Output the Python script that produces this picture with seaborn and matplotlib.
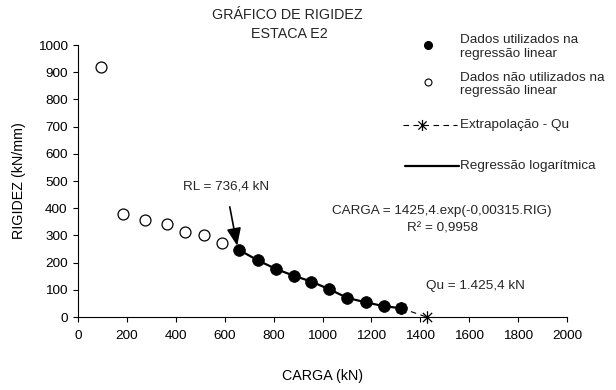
import numpy as np
import pandas as pd
import matplotlib
matplotlib.use("Agg")
import matplotlib.pyplot as plt
from matplotlib.lines import Line2D
from matplotlib.path import Path
import seaborn as sns

# Load test readings: load (kN) and pile stiffness (kN/mm)
load_unused = [95, 185, 275, 366, 439, 516, 589]
stiff_unused = [918, 379, 355, 342, 314, 301, 273]

load_used = [660, 736, 811, 882, 955, 1028, 1102, 1177, 1250, 1323]
stiff_used = [246, 208, 176, 152, 130, 102, 70, 54, 40, 32]

# Extrapolation from the last point used in the fit to the ultimate load
qu_load = 1425.4
extrap_load = [1323, qu_load]
extrap_stiff = [32, 0]

x_ticks = list(range(0, 2001, 200))
y_ticks = list(range(0, 1001, 100))

sns.set_theme(style="white")
plt.rcParams["font.family"] = ["Liberation Sans", "DejaVu Sans"]
plt.rcParams["axes.linewidth"] = 0.8
plt.rcParams["xtick.major.width"] = 0.8
plt.rcParams["ytick.major.width"] = 0.8

W, H = 616, 390
fig = plt.figure(figsize=(W / 100, H / 100), dpi=100)
ax = fig.add_axes([78 / W, 1 - 317 / H, (567 - 78) / W, (317 - 45) / H])

FS = 9.7

df_used = pd.DataFrame({"CARGA": load_used, "RIGIDEZ": stiff_used})
df_unused = pd.DataFrame({"CARGA": load_unused, "RIGIDEZ": stiff_unused})

# Excel-style star marker: an "x" crossed by a vertical bar
star = Path(
    [(-1, -1), (1, 1), (-1, 1), (1, -1), (0, -1.35), (0, 1.35)],
    [Path.MOVETO, Path.LINETO, Path.MOVETO, Path.LINETO, Path.MOVETO, Path.LINETO],
)

# Logarithmic regression line through the points used in the fit
sns.lineplot(data=df_used, x="CARGA", y="RIGIDEZ", color="black", lw=1.6,
             ax=ax, zorder=2, sort=True)

# Extrapolation to Qu
ax.plot(extrap_load, extrap_stiff, color="black", lw=0.8, ls=(0, (5, 4)),
        marker=star, markersize=9, markeredgewidth=0.9, markerfacecolor="none",
        clip_on=False, zorder=3)

sns.scatterplot(data=df_unused, x="CARGA", y="RIGIDEZ", marker="o", s=62,
                facecolor="white", edgecolor="black", linewidth=0.9, ax=ax,
                zorder=4)
sns.scatterplot(data=df_used, x="CARGA", y="RIGIDEZ", marker="o", s=72,
                color="black", edgecolor="black", linewidth=0.5, ax=ax,
                zorder=4)

ax.set_xlim(0, 2000)
ax.set_ylim(0, 1000)
ax.set_xticks(x_ticks)
ax.set_yticks(y_ticks)
ax.tick_params(axis="both", direction="out", length=3.5, labelsize=FS,
               colors="black", bottom=True, left=True)
ax.tick_params(axis="x", pad=6)
ax.tick_params(axis="y", pad=4)
sns.despine(ax=ax)
for s in ("left", "bottom"):
    ax.spines[s].set_color("black")

ax.set_xlabel("CARGA (kN)", fontsize=FS + 0.6, labelpad=19, color="black")
ax.set_ylabel("RIGIDEZ (kN/mm)", fontsize=FS + 0.6, labelpad=8, color="black")

# Annotations
ax.annotate("RL = 736,4 kN", xy=(651, 262), xytext=(605, 479),
            ha="center", va="center", fontsize=FS,
            arrowprops=dict(arrowstyle="-|>,head_length=1.1,head_width=0.45",
                            color="black", lw=1.2, shrinkA=8, shrinkB=0))
ax.text(1490, 391, "CARGA = 1425,4.exp(-0,00315.RIG)", ha="center",
        va="center", fontsize=FS)
ax.text(1490, 324, "R² = 0,9958", ha="center", va="center", fontsize=FS)
ax.text(1625, 115, "Qu = 1.425,4 kN", ha="center", va="center", fontsize=FS)

# Title
fig.text(287 / W, 1 - 15 / H, "GRÁFICO DE RIGIDEZ", ha="center", va="center",
         fontsize=FS + 0.6)
fig.text(289 / W, 1 - 34 / H, "ESTACA E2", ha="center", va="center",
         fontsize=FS + 0.6)


def fx(px):
    return px / W


def fy(py):
    return 1 - py / H


# Legend, laid out in figure pixels
fig.add_artist(Line2D([fx(428)], [fy(45)], marker="o", markersize=5.5,
                      color="black", ls="none"))
fig.text(fx(460), fy(47), "Dados utilizados na\nregressão linear",
         ha="left", va="center", fontsize=FS, linespacing=1.2)

fig.add_artist(Line2D([fx(428)], [fy(82)], marker="o", markersize=5,
                      markerfacecolor="white", markeredgecolor="black",
                      markeredgewidth=0.8, ls="none"))
fig.text(fx(460), fy(84.5), "Dados não utilizados na\nregressão linear",
         ha="left", va="center", fontsize=FS, linespacing=1.2)

fig.add_artist(Line2D([fx(403), fx(457)], [fy(125), fy(125)], color="black",
                      lw=0.8, ls=(0, (5, 4))))
fig.add_artist(Line2D([fx(422)], [fy(125)], marker=star, markersize=8,
                      markeredgewidth=0.9, markerfacecolor="none",
                      color="black", ls="none"))
fig.text(fx(460), fy(125), "Extrapolação - Qu", ha="left", va="center",
         fontsize=FS)

fig.add_artist(Line2D([fx(405), fx(459)], [fy(166), fy(166)], color="black",
                      lw=1.6))
fig.text(fx(460), fy(166), "Regressão logarítmica", ha="left", va="center",
         fontsize=FS)

fig.savefig("out.png", dpi=100, facecolor="white")
